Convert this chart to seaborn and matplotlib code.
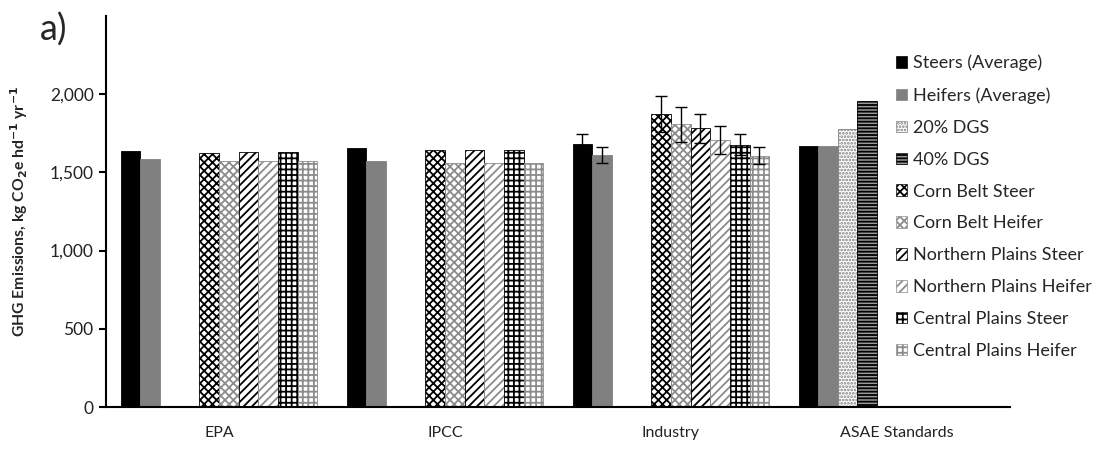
import numpy as np
import pandas as pd
import matplotlib
matplotlib.use("Agg")
import matplotlib.pyplot as plt
import seaborn as sns

methods = ["EPA", "IPCC", "Industry", "ASAE Standards"]
series = ["Steers (Average)", "Heifers (Average)", "20% DGS", "40% DGS",
          "Corn Belt Steer", "Corn Belt Heifer", "Northern Plains Steer",
          "Northern Plains Heifer", "Central Plains Steer", "Central Plains Heifer"]

nan = np.nan
steers_avg = [1638, 1653, 1683, 1666]
heifers_avg = [1585, 1570, 1610, 1666]
dgs20 = [nan, nan, nan, 1774]
dgs40 = [nan, nan, nan, 1957]
cb_steer = [1625, 1642, 1872, nan]
cb_heifer = [1574, 1561, 1806, nan]
np_steer = [1628, 1642, 1781, nan]
np_heifer = [1574, 1560, 1706, nan]
cp_steer = [1632, 1642, 1676, nan]
cp_heifer = [1570, 1561, 1606, nan]

# error bars only for the Industry method
industry_err = [60, 50, nan, nan, 115, 110, 93, 90, 68, 53]

values = [steers_avg, heifers_avg, dgs20, dgs40, cb_steer, cb_heifer,
          np_steer, np_heifer, cp_steer, cp_heifer]

rows = []
for s, vals in zip(series, values):
    for m, v in zip(methods, vals):
        rows.append({"method": m, "series": s, "value": v})
df = pd.DataFrame(rows).dropna()

styles = {
    "Steers (Average)": dict(fc="black", ec="black", hatch=None),
    "Heifers (Average)": dict(fc="#808080", ec="#808080", hatch=None),
    "20% DGS": dict(fc="white", ec="#808080", hatch="....."),
    "40% DGS": dict(fc="#9a9a9a", ec="black", hatch="-----"),
    "Corn Belt Steer": dict(fc="white", ec="black", hatch="xxxx"),
    "Corn Belt Heifer": dict(fc="white", ec="#8c8c8c", hatch="xxxx"),
    "Northern Plains Steer": dict(fc="white", ec="black", hatch="////"),
    "Northern Plains Heifer": dict(fc="white", ec="#8c8c8c", hatch="////"),
    "Central Plains Steer": dict(fc="white", ec="black", hatch="+++"),
    "Central Plains Heifer": dict(fc="white", ec="#8c8c8c", hatch="+++"),
}

sns.set_style("white")
plt.rcParams["font.family"] = ["Lato", "DejaVu Sans"]
plt.rcParams["hatch.linewidth"] = 1.3
plt.rcParams["mathtext.default"] = "regular"

fig = plt.figure(figsize=(10.94, 4.54), dpi=100)
ax = fig.add_axes([0.097, 0.1035, 0.826, 0.8615])

sns.barplot(data=df, x="method", y="value", hue="series", order=methods,
            hue_order=series, width=0.87, errorbar=None, ax=ax, legend=False)

# hatches and colours, one container per series
for cont, s in zip(ax.containers, series):
    st = styles[s]
    for bar in cont:
        bar.set_facecolor(st["fc"])
        bar.set_edgecolor(st["ec"])
        bar.set_linewidth(0.6)
        if st["hatch"]:
            bar.set_hatch(st["hatch"])

# Industry error bars
ind = methods.index("Industry")
for cont, s, err in zip(ax.containers, series, industry_err):
    if np.isnan(err):
        continue
    for bar in cont:
        xc = bar.get_x() + bar.get_width() / 2
        if abs(xc - ind) < 0.5:
            ax.errorbar(xc, bar.get_height(), yerr=err, color="black",
                        capsize=4, elinewidth=1, capthick=1)

ax.set_xlim(-0.5, 3.5)
ax.set_ylim(0, 2500)
ax.set_yticks([0, 500, 1000, 1500, 2000])
ax.set_yticklabels(["0", "500", "1,000", "1,500", "2,000"])
ax.set_xticks(range(len(methods)))
ax.set_xticklabels(methods)
ax.set_xticks([0.5, 1.5, 2.5, 3.5], minor=True)
ax.tick_params(axis="x", which="major", length=0, pad=14, labelsize=11.5, labelcolor="#222222")
ax.tick_params(axis="x", which="minor", length=5, width=1.5, direction="out", color="black")
ax.tick_params(axis="y", length=5, width=1.5, direction="out", labelsize=12.5,
               labelcolor="#222222", color="black", left=True, pad=4)
for side in ["top", "right"]:
    ax.spines[side].set_visible(False)
for side in ["left", "bottom"]:
    ax.spines[side].set_color("black")
    ax.spines[side].set_linewidth(1.5)

ax.set_xlabel("")
ax.set_ylabel(r"GHG Emissions, kg CO$\mathbf{_2}$e hd$\mathbf{^{-1}}$ yr$\mathbf{^{-1}}$",
              fontsize=11.3, fontweight="bold")
ax.yaxis.set_label_coords(-0.084, 0.5)

fig.text(0.036, 0.934, "a)", fontsize=26, ha="left", va="center")

handles = [plt.Rectangle((0, 0), 1, 1, facecolor=styles[s]["fc"],
                         edgecolor=styles[s]["ec"], hatch=styles[s]["hatch"], linewidth=0.5)
           for s in series]
fig.legend(handles, series, loc="upper left", bbox_to_anchor=(0.804, 0.915),
           frameon=False, fontsize=13, handlelength=0.6, handleheight=0.6,
           handletextpad=0.35, labelspacing=0.88)

fig.savefig("out.png", dpi=100)
